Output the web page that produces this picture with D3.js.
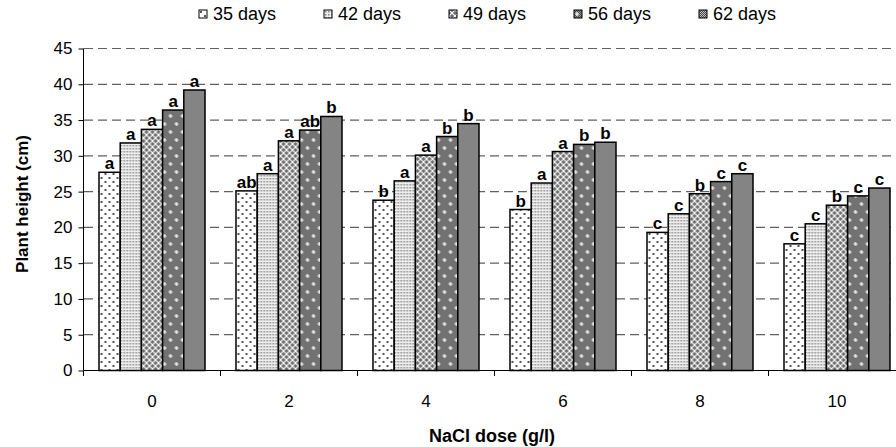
<!DOCTYPE html>
<html>
<head>
<meta charset="utf-8">
<script src="https://cdn.jsdelivr.net/npm/d3@7"></script>
<style>
  body { margin: 0; background: #fff; }
  svg text { font-family: Arial, "Liberation Sans", sans-serif; fill: #000; }
</style>
</head>
<body>
<svg id="chart" width="896" height="447"></svg>
<script>
const doses = ['0', '2', '4', '6', '8', '10'];
const seriesNames = ['35 days', '42 days', '49 days', '56 days', '62 days'];
const d35 = [27.7, 25.1, 23.8, 22.5, 19.3, 17.7];
const d42 = [31.8, 27.5, 26.5, 26.2, 21.9, 20.5];
const d49 = [33.7, 32.1, 30.1, 30.6, 24.7, 23.1];
const d56 = [36.4, 33.6, 32.7, 31.6, 26.4, 24.4];
const d62 = [39.2, 35.5, 34.5, 31.9, 27.5, 25.5];
const l35 = ['a', 'ab', 'b', 'b', 'c', 'c'];
const l42 = ['a', 'a', 'a', 'a', 'c', 'c'];
const l49 = ['a', 'a', 'a', 'a', 'b', 'b'];
const l56 = ['a', 'ab', 'b', 'b', 'c', 'c'];
const l62 = ['a', 'b', 'b', 'b', 'c', 'c'];
const yTicks = [0, 5, 10, 15, 20, 25, 30, 35, 40, 45];

const values = [d35, d42, d49, d56, d62];
const letters = [l35, l42, l49, l56, l62];
const patternIds = ['p35', 'p42', 'p49', 'p56', 'p62'];

const svg = d3.select('#chart');
const defs = svg.append('defs');

// fine checker used inside the two darkest fills
function checker(id, dark, light) {
  const p = defs.append('pattern').attr('id', id).attr('patternUnits', 'userSpaceOnUse')
    .attr('width', 2).attr('height', 2);
  p.append('rect').attr('width', 2).attr('height', 2).attr('fill', light);
  p.append('rect').attr('width', 1).attr('height', 1).attr('fill', dark);
  p.append('rect').attr('x', 1).attr('y', 1).attr('width', 1).attr('height', 1).attr('fill', dark);
}
checker('chk56', '#4a4a4a', '#999');
checker('chk62', '#4a4a4a', '#bdbdbd');

// 35 days: sparse dark dots on white
let p = defs.append('pattern').attr('id', 'p35').attr('patternUnits', 'userSpaceOnUse').attr('width', 8).attr('height', 8);
p.append('rect').attr('width', 8).attr('height', 8).attr('fill', '#fff');
p.append('rect').attr('x', 1).attr('y', 1).attr('width', 2).attr('height', 2).attr('fill', '#555');
p.append('rect').attr('x', 5).attr('y', 5).attr('width', 2).attr('height', 2).attr('fill', '#555');

// 42 days: fine light dots
p = defs.append('pattern').attr('id', 'p42').attr('patternUnits', 'userSpaceOnUse').attr('width', 3).attr('height', 3);
p.append('rect').attr('width', 3).attr('height', 3).attr('fill', '#eee');
p.append('rect').attr('x', 1).attr('y', 1).attr('width', 1.5).attr('height', 1.5).attr('fill', '#888');

// 49 days: gray with white diagonal lattice
p = defs.append('pattern').attr('id', 'p49').attr('patternUnits', 'userSpaceOnUse').attr('width', 6).attr('height', 6);
p.append('rect').attr('width', 6).attr('height', 6).attr('fill', '#6e6e6e');
p.append('path').attr('d', 'M0,0L6,6M6,0L0,6').attr('stroke', '#fff').attr('stroke-width', 1.1);

// 56 days: dark checker with sparse white crosses
p = defs.append('pattern').attr('id', 'p56').attr('patternUnits', 'userSpaceOnUse').attr('width', 12).attr('height', 16);
p.append('rect').attr('width', 12).attr('height', 16).attr('fill', 'url(#chk56)');
p.append('path').attr('d', 'M3,2v4M1,4h4M9,10v4M7,12h4').attr('stroke', '#fff').attr('stroke-width', 1.2);

// 62 days: dark fine checker
p = defs.append('pattern').attr('id', 'p62').attr('patternUnits', 'userSpaceOnUse').attr('width', 2).attr('height', 2);
p.append('rect').attr('width', 2).attr('height', 2).attr('fill', 'url(#chk62)');

const x0 = d3.scaleBand().domain(doses).range([83.5, 905.5]);
const x1 = d3.scaleBand().domain(seriesNames).range([15.5, 121.5]);
const y = d3.scaleLinear().domain([0, 45]).range([370.5, 48.5]);

// grid lines
svg.append('g').selectAll('line').data(yTicks.filter(t => t > 0)).enter().append('line')
  .attr('x1', 84).attr('x2', 896)
  .attr('y1', d => y(d)).attr('y2', d => y(d))
  .attr('stroke', '#606060').attr('stroke-width', 1.2).attr('stroke-dasharray', '9,5');

// bars
const groups = svg.append('g').selectAll('g').data(doses).enter().append('g')
  .attr('transform', d => `translate(${x0(d)},0)`);

groups.each(function (dose, i) {
  const g = d3.select(this);
  const rows = seriesNames.map((s, k) => ({ s, k, v: values[k][i], lab: letters[k][i] }));
  g.selectAll('rect').data(rows).enter().append('rect')
    .attr('x', d => x1(d.s))
    .attr('y', d => y(d.v))
    .attr('width', x1.bandwidth())
    .attr('height', d => y(0) - y(d.v))
    .attr('fill', d => `url(#${patternIds[d.k]})`)
    .attr('stroke', '#000').attr('stroke-width', 1.5);
  g.selectAll('text').data(rows).enter().append('text')
    .attr('x', d => x1(d.s) + x1.bandwidth() / 2)
    .attr('y', d => y(d.v) - 3)
    .attr('text-anchor', 'middle')
    .attr('font-size', 17).attr('font-weight', 'bold')
    .text(d => d.lab);
});

// y axis
const yAxis = svg.append('g').attr('transform', 'translate(83.5,0)')
  .call(d3.axisLeft(y).tickValues(yTicks).tickSize(5).tickPadding(6));
yAxis.select('.domain').attr('d', `M0,${y(45)}V${y(0)}`).attr('stroke', '#000');
yAxis.selectAll('.tick line').attr('stroke', '#000');
yAxis.selectAll('.tick text').attr('font-size', 17).attr('font-family', 'Arial, "Liberation Sans", sans-serif');

// x axis: ticks at category boundaries
svg.append('line').attr('x1', 83.5).attr('x2', 896).attr('y1', 370.5).attr('y2', 370.5).attr('stroke', '#000');
svg.append('g').selectAll('line').data(doses).enter().append('line')
  .attr('x1', d => x0(d)).attr('x2', d => x0(d))
  .attr('y1', 370.5).attr('y2', 376).attr('stroke', '#000');
svg.append('g').selectAll('text').data(doses).enter().append('text')
  .attr('x', d => x0(d) + x0.bandwidth() / 2)
  .attr('y', 407)
  .attr('text-anchor', 'middle').attr('font-size', 17)
  .text(d => d);

// axis titles
svg.append('text').attr('x', 492).attr('y', 442).attr('text-anchor', 'middle')
  .attr('font-size', 18).attr('font-weight', 'bold').text('NaCl dose (g/l)');
svg.append('text').attr('transform', 'translate(28,204) rotate(-90)').attr('text-anchor', 'middle')
  .attr('font-size', 17).attr('font-weight', 'bold').text('Plant height (cm)');

// legend
const legend = svg.append('g').selectAll('g').data(seriesNames).enter().append('g')
  .attr('transform', (d, i) => `translate(${199 + i * 125},10)`);
legend.append('rect').attr('width', 8).attr('height', 8)
  .attr('fill', (d, i) => `url(#${patternIds[i]})`).attr('stroke', '#000').attr('stroke-width', 1);
legend.append('text').attr('x', 14).attr('y', 10).attr('font-size', 18).text(d => d);
</script>
</body>
</html>
